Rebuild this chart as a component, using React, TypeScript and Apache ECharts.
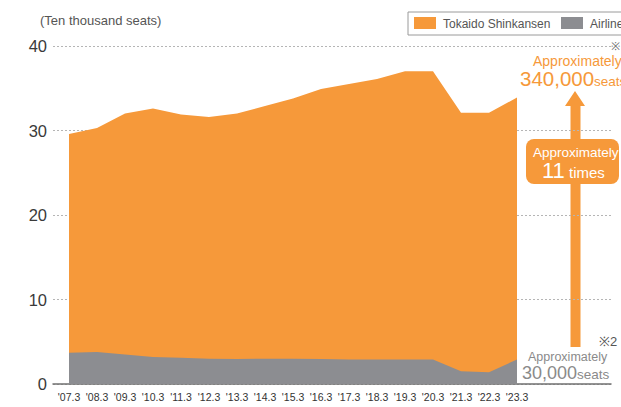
import React, { useEffect, useRef } from "react";
import * as echarts from "echarts";

const categories = ["'07.3", "'08.3", "'09.3", "'10.3", "'11.3", "'12.3", "'13.3", "'14.3", "'15.3", "'16.3", "'17.3", "'18.3", "'19.3", "'20.3", "'21.3", "'22.3", "'23.3"];
const shinkansenSeats = [29.6, 30.3, 32.0, 32.6, 31.9, 31.6, 32.0, 32.9, 33.8, 34.9, 35.5, 36.1, 37.0, 37.0, 32.1, 32.1, 33.9];
const airlineSeats = [3.7, 3.8, 3.5, 3.2, 3.1, 3.0, 2.95, 3.0, 3.0, 2.95, 2.9, 2.9, 2.9, 2.9, 1.5, 1.4, 2.9];
const yMin = 0;
const yMax = 40;
const yInterval = 10;
const seriesNames = ["Tokaido Shinkansen", "Airline"];
const unitLabel = "(Ten thousand seats)";

const ORANGE = "#F6993A";
const GRAY = "#8C8D91";
const FONT = "'Liberation Sans', Arial, sans-serif";

export default function App() {
  const ref = useRef<HTMLDivElement>(null);
  useEffect(() => {
    if (!ref.current) return;
    const chart = echarts.init(ref.current, null, { renderer: "svg" });
    const rich = (big: number, small: number, color: string) => ({
      a: { fontSize: big, lineHeight: big, fill: color, fontFamily: FONT, verticalAlign: "bottom" },
      b: { fontSize: small, lineHeight: small, fill: color, fontFamily: FONT, verticalAlign: "bottom", padding: [0, 0, 1, 0] },
    });
    const option: any = {
      animation: false,
      backgroundColor: "#fff",
      grid: [
        { left: 69, right: 104, top: 46, bottom: 23 },
        { left: 53, right: 10, top: 46, bottom: 23 },
      ],
      xAxis: [
        {
          gridIndex: 0,
          type: "category",
          data: categories,
          boundaryGap: false,
          axisLine: { show: false },
          axisTick: { show: false },
          splitLine: { show: false },
          axisLabel: { interval: 0, margin: 7, fontSize: 10.5, color: "#333", fontFamily: FONT },
        },
        {
          gridIndex: 1,
          type: "value",
          min: 0,
          max: 1,
          axisLine: { show: true, lineStyle: { color: "#707070", width: 1.5 } },
          axisTick: { show: false },
          axisLabel: { show: false },
          splitLine: { show: false },
        },
      ],
      yAxis: [
        { gridIndex: 0, type: "value", min: yMin, max: yMax, interval: yInterval, show: false, splitLine: { show: false } },
        {
          gridIndex: 1,
          type: "value",
          min: yMin,
          max: yMax,
          interval: yInterval,
          axisLine: { show: false },
          axisTick: { show: false },
          axisLabel: { margin: 6, fontSize: 16.5, color: "#3a3a3a", fontFamily: FONT },
          splitLine: { show: true, lineStyle: { color: "#b5b5b5", type: [2, 2], width: 1 } },
        },
      ],
      series: [
        {
          name: seriesNames[0],
          type: "line",
          xAxisIndex: 0,
          yAxisIndex: 0,
          data: shinkansenSeats,
          symbol: "none",
          lineStyle: { width: 0 },
          areaStyle: { color: ORANGE, opacity: 1 },
          z: 2,
        },
        {
          name: seriesNames[1],
          type: "line",
          xAxisIndex: 0,
          yAxisIndex: 0,
          data: airlineSeats,
          symbol: "none",
          lineStyle: { width: 0 },
          areaStyle: { color: GRAY, opacity: 1 },
          z: 3,
        },
      ],
      graphic: [
        { type: "text", x: 40, y: 20, style: { text: unitLabel, fill: "#555", fontSize: 13, fontFamily: FONT, verticalAlign: "middle" } },
        // legend
        { type: "rect", shape: { x: 408, y: 12, width: 240, height: 23 }, style: { fill: "#fff", stroke: "#9a9a9a", lineWidth: 1 } },
        { type: "rect", shape: { x: 414, y: 17, width: 22, height: 12 }, style: { fill: ORANGE } },
        { type: "text", x: 443, y: 23.5, style: { text: seriesNames[0], fill: "#555", fontSize: 12, fontFamily: FONT, verticalAlign: "middle" } },
        { type: "rect", shape: { x: 561, y: 17, width: 22, height: 12 }, style: { fill: GRAY } },
        { type: "text", x: 590, y: 23.5, style: { text: seriesNames[1], fill: "#555", fontSize: 12, fontFamily: FONT, verticalAlign: "middle" } },
        // notes
        { type: "text", x: 611, y: 46, style: { text: "※", fill: "#666", fontSize: 11, fontFamily: FONT, verticalAlign: "middle" } },
        { type: "text", x: 599, y: 341, style: { text: "※2", fill: "#555", fontSize: 13, fontFamily: FONT, verticalAlign: "middle" } },
        // arrow
        {
          type: "polygon",
          shape: { points: [[575, 91], [585, 106], [580.5, 106], [580.5, 347], [570.5, 347], [570.5, 106], [565, 106]] },
          style: { fill: ORANGE },
        },
        { type: "rect", shape: { x: 526, y: 139, width: 93, height: 45, r: 8 }, style: { fill: ORANGE } },
        { type: "text", x: 533, y: 152, style: { text: "Approximately", fill: "#fff", fontSize: 13.5, lineHeight: 13.5, fontFamily: FONT, verticalAlign: "middle" } },
        {
          type: "text",
          x: 542,
          y: 181,
          style: { text: "{a|11}{b| times}", fill: "#fff", fontFamily: FONT, verticalAlign: "bottom", rich: rich(22, 15, "#fff") },
        },
        { type: "text", x: 533, y: 60.5, style: { text: "Approximately", fill: ORANGE, fontSize: 14, lineHeight: 14, fontFamily: FONT, verticalAlign: "middle" } },
        {
          type: "text",
          x: 520,
          y: 89,
          style: { text: "{a|340,000}{b|seats}", fill: ORANGE, fontFamily: FONT, verticalAlign: "bottom", rich: rich(20.5, 13.5, ORANGE) },
        },
        { type: "text", x: 528, y: 357, style: { text: "Approximately", fill: "#8a8a8a", fontSize: 12.5, lineHeight: 12.5, fontFamily: FONT, verticalAlign: "middle" } },
        {
          type: "text",
          x: 522,
          y: 382,
          style: { text: "{a|30,000}{b|seats}", fill: "#8a8a8a", fontFamily: FONT, verticalAlign: "bottom", rich: rich(18, 13.5, "#8a8a8a") },
        },
      ],
    };
    chart.setOption(option);
    return () => chart.dispose();
  }, []);
  return <div ref={ref} style={{ position: "fixed", left: 0, top: 0, width: 621, height: 407 }} />;
}
